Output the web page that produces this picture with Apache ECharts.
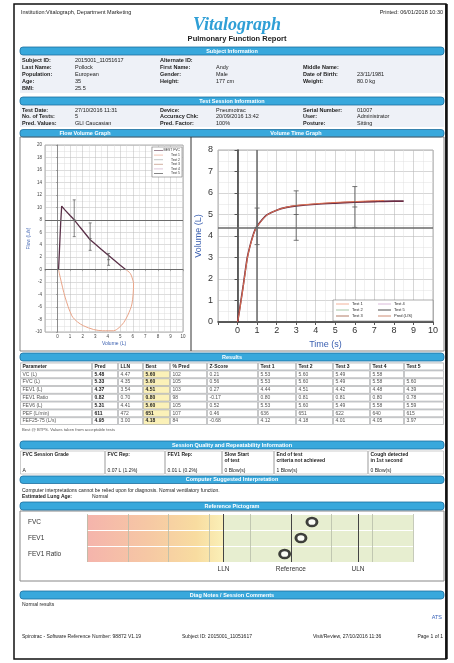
<!DOCTYPE html>
<html><head><meta charset="utf-8">
<script src="https://cdn.jsdelivr.net/npm/echarts@6/dist/echarts.min.js"></script>
<style>html,body{margin:0;padding:0;background:#fff}#c{width:454px;height:663px}</style>
</head><body><div id="c"></div><script>
const F = 'Liberation Sans, Arial, sans-serif';

// ---------- report text ----------
const subjectRows = [
  ['Subject ID:', '2015001_11051617', 'Alternate ID:', '', '', ''],
  ['Last Name:', 'Pollock', 'First Name:', 'Andy', 'Middle Name:', ''],
  ['Population:', 'European', 'Gender:', 'Male', 'Date of Birth:', '23/11/1981'],
  ['Age:', '35', 'Height:', '177 cm', 'Weight:', '80.0 kg'],
  ['BMI:', '25.5', '', '', '', '']
];
const sessionRows = [
  ['Test Date:', '27/10/2016 11:31', 'Device:', 'Pneumotrac', 'Serial Number:', '01007'],
  ['No. of Tests:', '5', 'Accuracy Chk:', '20/09/2016 13:42', 'User:', 'Administrator'],
  ['Pred. Values:', 'GLI Caucasian', 'Pred. Factor:', '100%', 'Posture:', 'Sitting']
];
const resultHeaders = ['Parameter','Pred','LLN','Best','% Pred','Z-Score','Test 1','Test 2','Test 3','Test 4','Test 5'];
const resultParams  = ['VC (L)','FVC (L)','FEV1 (L)','FEV1 Ratio','FEV6 (L)','PEF (L/min)','FEF25-75 (L/s)'];
const resultPred    = ['5.48','5.33','4.37','0.82','5.31','611','4.95'];
const resultLLN     = ['4.47','4.35','3.54','0.70','4.41','472','3.00'];
const resultBest    = ['5.60','5.60','4.51','0.80','5.60','651','4.18'];
const resultPctPred = ['102','105','103','98','105','107','84'];
const resultZ       = ['0.21','0.56','0.27','-0.17','0.52','0.46','-0.68'];
const resultTest1   = ['5.53','5.53','4.44','0.80','5.53','636','4.12'];
const resultTest2   = ['5.60','5.60','4.51','0.81','5.60','651','4.18'];
const resultTest3   = ['5.49','5.49','4.42','0.81','5.49','622','4.01'];
const resultTest4   = ['5.58','5.58','4.48','0.80','5.58','640','4.05'];
const resultTest5   = ['','5.60','4.39','0.78','5.59','615','3.97'];
const qualityHeaders = [['FVC Session Grade'],['FVC Rep:'],['FEV1 Rep:'],['Slow Start','of test'],['End of test','criteria not achieved'],['Cough detected','in 1st second']];
const qualityValues  = ['A','0.07 L (1.2%)','0.01 L (0.2%)','0 Blow(s)','1 Blow(s)','0 Blow(s)'];

// ---------- flow-volume data ----------
const fvExpVolume = [0.08, 0.15, 0.25, 0.33, 0.6, 1.0, 1.33, 1.8, 2.2, 2.6, 3.0, 3.5, 4.05, 4.5, 5.0, 5.45];
const fvExpFlow   = [0, 3.0, 7.5, 10.2, 9.55, 8.7, 8.0, 6.8, 5.8, 4.8, 4.1, 3.25, 2.3, 1.55, 0.7, 0];
const fvInspVolume = [5.45, 5.8, 6.02, 6.06, 5.93, 5.6, 5.27, 4.9, 4.47, 3.6, 2.87, 2.07, 1.6, 1.14, 0.6, 0.21, 0.08];
const fvInspFlow   = [0, -0.6, -1.8, -2.3, -5.5, -7.3, -8.5, -9.3, -9.8, -9.8, -9.6, -9.0, -8.4, -7.4, -4.4, -1.2, 0];
const fvPredVol  = [1.33, 2.6, 4.07];
const fvPredLow  = [5.3, 3.1, 0.7];
const fvPredMid  = [8.0, 5.0, 1.6];
const fvPredHigh = [11.2, 7.5, 2.6];

// ---------- volume-time data ----------
const vtTimeA = [0, 0.1, 0.2, 0.3, 0.4, 0.5, 0.6, 0.7, 0.8, 0.9, 1.0, 1.2, 1.5, 2, 2.5, 3, 4, 5, 6, 7, 8, 8.5];
const vtVolA  = [0, 0.55, 1.15, 1.75, 2.4, 3.0, 3.4, 3.75, 4.05, 4.3, 4.45, 4.7, 4.98, 5.2, 5.33, 5.4, 5.48, 5.53, 5.57, 5.6, 5.62, 5.62];
const vtTimeB = [0, 0.1, 0.2, 0.3, 0.4, 0.5, 0.6, 0.7, 0.8, 0.9, 1.0, 1.2, 1.5, 2, 2.5, 3, 4, 5, 6, 7, 7.5];
const vtVolB  = [0, 0.5, 1.1, 1.7, 2.35, 2.95, 3.38, 3.72, 4.02, 4.28, 4.43, 4.68, 4.97, 5.2, 5.34, 5.42, 5.5, 5.56, 5.6, 5.64, 5.65];
const vtPredTime = [1, 3, 6];
const vtPredLow  = [3.6, 3.8, 4.4];
const vtPredMid  = [4.4, 5.0, 5.35];
const vtPredHigh = [5.3, 6.1, 6.3];
const vtPredFEV1 = 4.37;

// ---------- pictogram ----------
const pictoParams = ['FVC', 'FEV1', 'FEV1 Ratio'];
const pictoZ      = [0.52, 0.25, -0.15];
const zLLN = -1.645, zULN = 1.645;

// ================= graphics (report layout) =================
const G = [];
function txt(x, y, s, o, z) {
  G.push({type:'text', x:x, y:y, z:(z===undefined?50:z), style:Object.assign({text:s, fontSize:5.5, fill:'#222', fontFamily:F, align:'left', verticalAlign:'middle'}, o||{})});
}
function rect(x, y, w, h, o, z) {
  G.push({type:'rect', z:(z===undefined?1:z), shape:{x:x, y:y, width:w, height:h, r:(o&&o.r)||0}, style:Object.assign({fill:'none', stroke:null, lineWidth:0.6}, o||{})});
}
function line(x1, y1, x2, y2, o, z) {
  G.push({type:'line', z:(z===undefined?1:z), shape:{x1:x1, y1:y1, x2:x2, y2:y2}, style:Object.assign({stroke:'#555', lineWidth:0.8}, o||{})});
}
function band(x, y, w, h, label, cx) {
  rect(x, y, w, h, {fill:'#38a8dc', stroke:'#1d6e9e', lineWidth:0.8, r:3});
  if (label) txt(cx === undefined ? x + w/2 : cx, y + h/2, label, {fill:'#fff', fontWeight:'bold', fontSize:5.5, align:'center'});
}

// page border
rect(14, 4, 432, 655, {stroke:'#111', lineWidth:1.5});
line(446.5, 4, 446.5, 659, {stroke:'#111', lineWidth:2.5});

// header
txt(21, 12, 'Institution:Vitalograph, Department Marketing', {fontSize:5.5});
txt(443, 12, 'Printed: 06/01/2018 10:30', {fontSize:5.5, align:'right'});
txt(237, 25, 'Vitalograph', {fontSize:18, fontStyle:'italic', fontWeight:'bold', fontFamily:'Liberation Serif, DejaVu Serif, serif', fill:'#2f9fd6', align:'center'});
txt(237, 39, 'Pulmonary Function Report', {fontSize:7.5, fontWeight:'bold', align:'center'});

// subject info
band(20, 47, 424, 8, 'Subject Information');
rect(20, 55, 424, 38, {fill:'#eef1f7'}, 0);
const colX = [22, 75, 160, 216, 303, 357];
subjectRows.forEach((r, i) => {
  r.forEach((s, j) => { if (s) txt(colX[j], 60 + i*7, s, {fontWeight: j%2===0 ? 'bold' : 'normal'}); });
});
// session info
band(20, 97, 424, 8, 'Test Session Information');
rect(20, 105, 424, 22, {fill:'#eef1f7'}, 0);
sessionRows.forEach((r, i) => {
  r.forEach((s, j) => { if (s) txt(colX[j], 110 + i*6.5, s, {fontWeight: j%2===0 ? 'bold' : 'normal'}); });
});

// graph section
band(20, 129.5, 424, 7.5, '');
txt(85, 133.3, 'Flow Volume Graph', {fill:'#fff', fontWeight:'bold', align:'center'});
txt(296, 133.3, 'Volume Time Graph', {fill:'#fff', fontWeight:'bold', align:'center'});
rect(20, 137, 424, 214, {stroke:'#666', lineWidth:0.8});
line(191, 137, 191, 351, {stroke:'#333', lineWidth:1});

// flow-volume legend box
rect(152, 147, 30, 30, {fill:'#fff', stroke:'#777', lineWidth:0.6}, 100);
const fvLegNames = ['BEST FVC','Test 1','Test 2','Test 3','Test 4','Test 5'];
const fvLegCols  = ['#5a3048','#e89a80','#9aa0a0','#b07860','#c8a0c0','#333'];
fvLegNames.forEach((n, i) => {
  const y = 150.5 + i*4.6;
  line(154, y, 163, y, {stroke:fvLegCols[i], lineWidth:0.6}, 101);
  txt(180, y, n, {fontSize:3.4, align:'right', fill:'#333'}, 102);
});
// volume-time legend box
rect(333, 300, 100, 21, {fill:'#fff', stroke:'#777', lineWidth:0.6}, 100);
const vtLegNames = ['Test 1','Test 2','Test 3','Test 4','Test 5','Pred (L/S)'];
const vtLegCols  = ['#f0a080','#90b890','#a05a40','#d0a8d0','#222','#c07050'];
vtLegNames.forEach((n, i) => {
  const col = Math.floor(i/3), row = i%3;
  const y = 304 + row*6;
  const x0 = col === 0 ? 336 : 378;
  line(x0, y, x0 + 13, y, {stroke:vtLegCols[i], lineWidth:0.8}, 101);
  txt(x0 + 16, y, n, {fontSize:4, fill:'#222'}, 102);
});

// results
band(20, 353, 424, 8, 'Results');
const rColX = [20, 92, 118, 143, 170, 207, 258, 296, 333, 370, 404, 444];
const resultCols = [resultParams, resultPred, resultLLN, resultBest, resultPctPred, resultZ, resultTest1, resultTest2, resultTest3, resultTest4, resultTest5];
rect(20, 362, 424, 63, {fill:'#e2e6ec'}, 0);
for (let r = -1; r < resultParams.length; r++) {
  const yc = 366.5 + (r + 1) * 7.8;
  for (let c = 0; c < resultHeaders.length; c++) {
    const x = rColX[c], w = rColX[c+1] - rColX[c];
    const fill = (r >= 0 && c === 3) ? '#fbf1b8' : '#fff';
    rect(x + 0.5, yc - 3.4, w - 1, 6.8, {fill:fill, stroke:'#9a9a9a', lineWidth:0.5}, 1);
    const s = r < 0 ? resultHeaders[c] : resultCols[c][r];
    if (s) txt(x + 2.5, yc, s, {fontSize:5, fontWeight: (r < 0 || c === 1 || c === 3) ? 'bold' : 'normal', fill: (r >= 0 && c !== 1 && c !== 3) ? '#555' : '#222'});
  }
}
txt(22, 429.5, 'Best @ BTPS. Values taken from acceptable tests', {fontSize:4.2, fill:'#555'});

// session quality
band(20, 441, 424, 8, 'Session Quality and Repeatability Information');
const qColX = [20, 105, 165, 222, 274, 368, 444];
qualityHeaders.forEach((h, c) => {
  const x = qColX[c], w = qColX[c+1] - qColX[c];
  rect(x + 0.5, 451, w - 1, 23, {fill:'#fff', stroke:'#9a9a9a', lineWidth:0.5}, 1);
  h.forEach((s, k) => txt(x + 2.5, 455 + k*6, s, {fontSize:5, fontWeight:'bold'}));
  txt(x + 2.5, 470.5, qualityValues[c], {fontSize:5});
});

// interpretation
band(20, 476, 424, 7.5, 'Computer Suggested Interpretation');
txt(22, 490.5, 'Computer interpretations cannot be relied upon for diagnosis. Normal ventilatory function.', {fontSize:5});
txt(22, 497, 'Estimated Lung Age:', {fontSize:5, fontWeight:'bold'});
txt(92, 497, 'Normal', {fontSize:5});

// pictogram
band(20, 502, 424, 8, 'Reference Pictogram');
rect(20, 511, 424, 70, {fill:'#fff', stroke:'#888', lineWidth:1}, 0);

// diagnosis
band(20, 591, 424, 8, 'Diag Notes / Session Comments');
txt(22, 605, 'Normal results', {fontSize:5});
txt(442, 617, 'ATS', {fontSize:5.5, fill:'#3a63b8', align:'right'});
txt(22, 637, 'Spirotrac - Software Reference Number: 98872 V1.19', {fontSize:5});
txt(182, 637, 'Subject ID: 2015001_11051617', {fontSize:5});
txt(313, 637, 'Visit/Review, 27/10/2016 11:36', {fontSize:5});
txt(443, 637, 'Page 1 of 1', {fontSize:5, align:'right'});

// ================= charts =================
function zip(a, b) { return a.map((v, i) => [v, b[i]]); }
function errBars(idx, xs, lo, mid, hi, color) {
  return {
    type:'custom', xAxisIndex:idx, yAxisIndex:idx, z:4, silent:true,
    data: xs.map((x, i) => [x, lo[i], mid[i], hi[i]]),
    renderItem: function (params, api) {
      const t = api.coord([api.value(0), api.value(3)]);
      const b = api.coord([api.value(0), api.value(1)]);
      const m = api.coord([api.value(0), api.value(2)]);
      const w = idx === 0 ? 1.5 : 2.5;
      const st = {stroke:color, lineWidth:0.8};
      return {type:'group', children:[
        {type:'line', shape:{x1:t[0], y1:t[1], x2:b[0], y2:b[1]}, style:st},
        {type:'line', shape:{x1:t[0]-w, y1:t[1], x2:t[0]+w, y2:t[1]}, style:st},
        {type:'line', shape:{x1:b[0]-w, y1:b[1], x2:b[0]+w, y2:b[1]}, style:st},
        {type:'line', shape:{x1:m[0]-w, y1:m[1], x2:m[0]+w, y2:m[1]}, style:st}
      ]};
    }
  };
}
const hideNeg = v => (v < 0 ? '' : v);

const option = {
  animation: false,
  backgroundColor: '#fff',
  graphic: {elements: G},
  grid: [
    {left:45, top:145, width:138, height:187, show:true, borderColor:'#999', borderWidth:0.8, backgroundColor:'transparent'},
    {left:218, top:150, width:215, height:172, show:true, borderColor:'#999', borderWidth:0.8, backgroundColor:'transparent'},
    {left:87, top:514, width:326, height:48}
  ],
  xAxis: [
    {gridIndex:0, type:'value', min:-1, max:10, interval:1,
     name:'Volume (L)', nameLocation:'middle', nameGap:9, nameTextStyle:{fontSize:5, color:'#3a5fb0', fontFamily:F},
     axisLine:{lineStyle:{color:'#777', width:0.8}}, axisTick:{length:1.5, lineStyle:{color:'#777', width:0.5}},
     axisLabel:{fontSize:4.5, color:'#444', margin:2.5, formatter:hideNeg, fontFamily:F},
     splitLine:{lineStyle:{color:'#bbb', width:0.5}},
     minorTick:{show:false, splitNumber:2}, minorSplitLine:{show:true, lineStyle:{color:'#ddd', width:0.5}}},
    {gridIndex:1, type:'value', min:-1, max:10, interval:1,
     name:'Time (s)', nameLocation:'middle', nameGap:18, nameTextStyle:{fontSize:9, color:'#3a5fb0', fontFamily:F},
     axisLine:{lineStyle:{color:'#333', width:1.5}}, axisTick:{length:3, lineStyle:{color:'#555'}},
     axisLabel:{fontSize:9, color:'#333', margin:4, formatter:hideNeg, fontFamily:F},
     splitLine:{lineStyle:{color:'#bbb', width:0.6}},
     minorTick:{show:false, splitNumber:2}, minorSplitLine:{show:true, lineStyle:{color:'#e0e0e0', width:0.5}}},
    {gridIndex:2, type:'value', min:-5, max:3, interval:1, z:5,
     axisLine:{show:false}, axisTick:{show:false}, axisLabel:{show:false},
     splitLine:{show:true, lineStyle:{color:'#b8bca8', width:0.8}}}
  ],
  yAxis: [
    {gridIndex:0, type:'value', min:-10, max:20, interval:2,
     name:'Flow (L/s)', nameLocation:'middle', nameGap:14, nameTextStyle:{fontSize:5, color:'#3a5fb0', fontFamily:F},
     axisLine:{lineStyle:{color:'#777', width:0.8}}, axisTick:{length:1.5, lineStyle:{color:'#777', width:0.5}},
     axisLabel:{fontSize:4.5, color:'#444', margin:3, fontFamily:F},
     splitLine:{lineStyle:{color:'#bbb', width:0.5}},
     minorTick:{show:false, splitNumber:2}, minorSplitLine:{show:true, lineStyle:{color:'#ddd', width:0.5}}},
    {gridIndex:1, type:'value', min:0, max:8, interval:1,
     name:'Volume (L)', nameLocation:'middle', nameGap:15, nameTextStyle:{fontSize:9, color:'#3a5fb0', fontFamily:F},
     axisLine:{lineStyle:{color:'#333', width:1.5}}, axisTick:{length:3, lineStyle:{color:'#555'}},
     axisLabel:{fontSize:9, color:'#333', margin:5, fontFamily:F},
     splitLine:{lineStyle:{color:'#bbb', width:0.6}},
     minorTick:{show:false, splitNumber:2}, minorSplitLine:{show:true, lineStyle:{color:'#e0e0e0', width:0.5}}},
    {gridIndex:2, type:'category', data:pictoParams, inverse:true, z:5,
     axisLine:{show:false}, axisTick:{show:false},
     axisLabel:{fontSize:6.5, color:'#333', align:'left', margin:59, fontFamily:F},
     splitLine:{show:true, lineStyle:{color:'#ffffff', width:1.2}}}
  ],
  series: [
    // flow-volume
    {type:'line', name:'Expiration', xAxisIndex:0, yAxisIndex:0, data:zip(fvExpVolume, fvExpFlow), showSymbol:false, z:3,
     lineStyle:{color:'#5a3048', width:1.3}, itemStyle:{color:'#5a3048'},
     markLine:{silent:true, symbol:'none', label:{show:false}, lineStyle:{color:'#6a6a6a', width:1.2, type:'solid'},
       data:[{yAxis:0}, {yAxis:8}]}},
    {type:'line', name:'Inspiration', xAxisIndex:0, yAxisIndex:0, data:zip(fvInspVolume, fvInspFlow), showSymbol:false, smooth:0.3, z:3,
     lineStyle:{color:'#e8a488', width:1}, itemStyle:{color:'#e8a488'}},
    errBars(0, fvPredVol, fvPredLow, fvPredMid, fvPredHigh, '#666'),
    // volume-time
    {type:'line', name:'Test 2', xAxisIndex:1, yAxisIndex:1, data:zip(vtTimeA, vtVolA), showSymbol:false, smooth:0.3, z:3,
     lineStyle:{color:'#6a2c44', width:1.6}, itemStyle:{color:'#6a2c44'},
     markLine:{silent:true, symbol:'none', label:{show:false}, lineStyle:{color:'#6a6a6a', width:1.5, type:'solid'},
       data:[{yAxis:vtPredFEV1}, {xAxis:1}]}},
    {type:'line', name:'Test 1', xAxisIndex:1, yAxisIndex:1, data:zip(vtTimeB, vtVolB), showSymbol:false, smooth:0.3, z:3,
     lineStyle:{color:'#e07050', width:1}, itemStyle:{color:'#e07050'}},
    errBars(1, vtPredTime, vtPredLow, vtPredMid, vtPredHigh, '#555'),
    // pictogram background
    {type:'line', name:'bg', xAxisIndex:2, yAxisIndex:2, data:[], z:1, silent:true,
     markArea:{silent:true, data:[
       [{xAxis:-5, itemStyle:{color:{type:'linear', x:0, y:0, x2:1, y2:0, colorStops:[
          {offset:0, color:'#f5b4ac'}, {offset:0.45, color:'#f6c8a4'}, {offset:0.8, color:'#f8dca0'}, {offset:1, color:'#faf0b8'}]}}},
        {xAxis:zLLN}],
       [{xAxis:zLLN, itemStyle:{color:'#e7eed0'}}, {xAxis:3}]
     ]}},
    {type:'scatter', name:'Z-Score', xAxisIndex:2, yAxisIndex:2, z:10,
     data: pictoParams.map((p, i) => [pictoZ[i], p]),
     symbol:'circle', symbolSize:[10, 8],
     itemStyle:{color:'#fff', borderColor:'#111', borderWidth:2.6},
     markLine:{silent:true, symbol:'none', lineStyle:{color:'#444', width:1, type:'solid'},
       label:{show:true, position:'end', distance:4, fontSize:6.5, color:'#333', fontFamily:F,
              formatter: p => p.name},
       data:[{xAxis:zLLN, name:'LLN'}, {xAxis:0, name:'Reference'}, {xAxis:zULN, name:'ULN'}]}}
  ]
};
const chart = echarts.init(document.getElementById('c'), null, {renderer:'canvas'});
chart.setOption(option);
</script></body></html>
